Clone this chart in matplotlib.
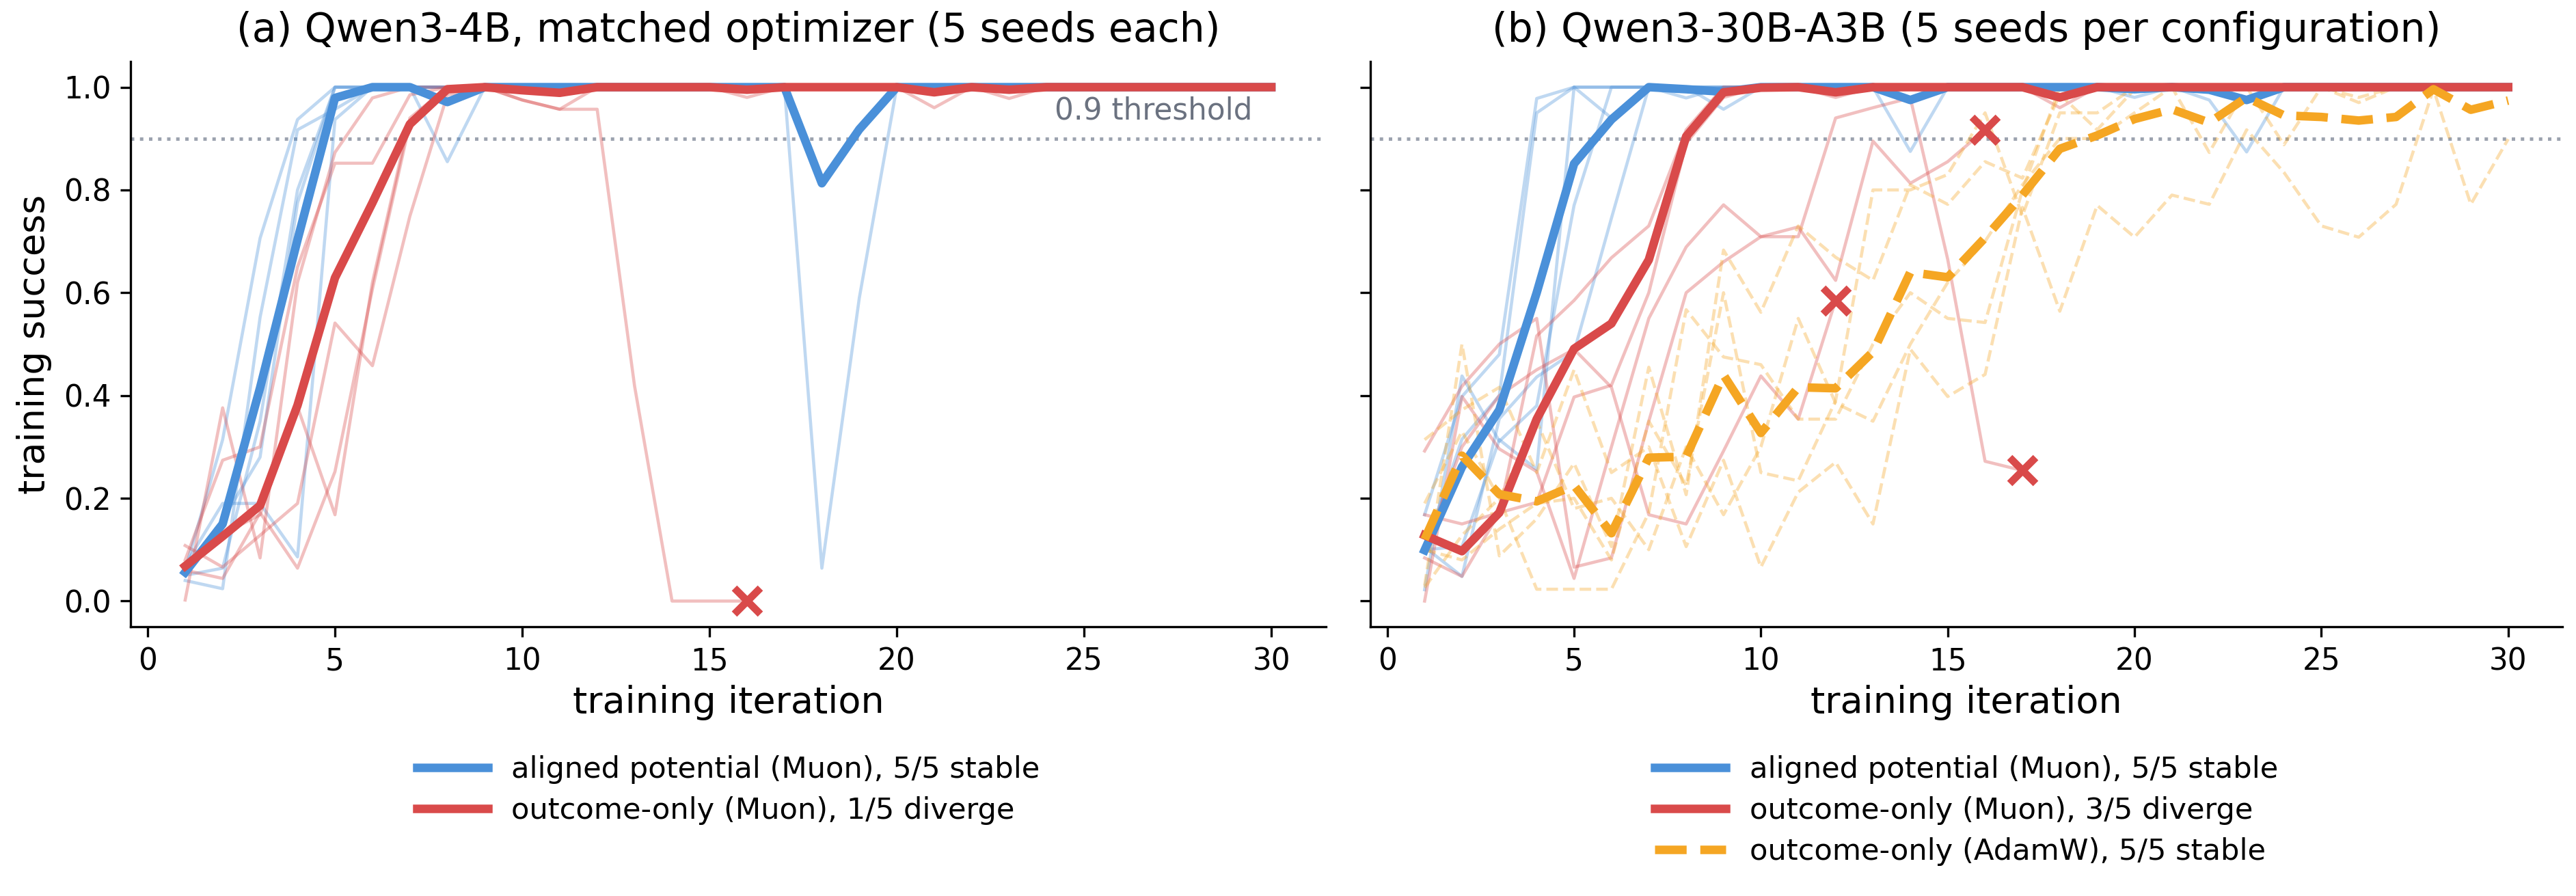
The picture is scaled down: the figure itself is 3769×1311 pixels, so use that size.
import matplotlib
matplotlib.use("Agg")
import matplotlib.pyplot as plt

plt.rcParams['font.family'] = ['DejaVu Sans']

iterations = list(range(1, 31))

# ---------------- panel (a): Qwen3-4B ----------------
blue_a_seeds = [
    [0.06, 0.314, 0.706, 0.937, 1.0, 1.0, 1.0, 1.0, 1.0, 1.0, 1.0, 1.0, 1.0, 1.0, 1.0, 1.0, 1.0, 1.0, 1.0, 1.0, 1.0, 1.0, 1.0, 1.0, 1.0, 1.0, 1.0, 1.0, 1.0, 1.0],
    [0.04, 0.024, 0.552, 0.917, 0.957, 1.0, 1.0, 1.0, 1.0, 1.0, 1.0, 1.0, 1.0, 1.0, 1.0, 1.0, 1.0, 1.0, 1.0, 1.0, 1.0, 1.0, 1.0, 1.0, 1.0, 1.0, 1.0, 1.0, 1.0, 1.0],
    [0.07, 0.19, 0.19, 0.086, 0.937, 1.0, 1.0, 0.855, 1.0, 1.0, 1.0, 1.0, 1.0, 1.0, 1.0, 1.0, 1.0, 1.0, 1.0, 1.0, 1.0, 1.0, 1.0, 1.0, 1.0, 1.0, 1.0, 1.0, 1.0, 1.0],
    [0.05, 0.064, 0.35, 0.80, 1.0, 1.0, 1.0, 1.0, 1.0, 1.0, 1.0, 1.0, 1.0, 1.0, 1.0, 1.0, 1.0, 0.064, 0.59, 1.0, 1.0, 1.0, 1.0, 1.0, 1.0, 1.0, 1.0, 1.0, 1.0, 1.0],
    [0.06, 0.158, 0.28, 0.775, 1.0, 1.0, 1.0, 1.0, 1.0, 1.0, 1.0, 1.0, 1.0, 1.0, 1.0, 1.0, 1.0, 1.0, 1.0, 1.0, 1.0, 1.0, 1.0, 1.0, 1.0, 1.0, 1.0, 1.0, 1.0, 1.0],
]
blue_a_mean = [0.056, 0.15, 0.415, 0.703, 0.979, 1.0, 1.0, 0.971, 1.0, 1.0, 1.0, 1.0, 1.0, 1.0, 1.0,
               1.0, 1.0, 0.813, 0.918, 1.0, 1.0, 1.0, 1.0, 1.0, 1.0, 1.0, 1.0, 1.0, 1.0, 1.0]

red_a_seeds = [
    [0.002, 0.376, 0.084, 0.62, 0.873, 0.979, 1.0, 1.0, 1.0, 1.0, 1.0, 1.0, 1.0, 1.0, 1.0, 0.98, 1.0, 1.0, 1.0, 1.0, 1.0, 1.0, 1.0, 1.0, 1.0, 1.0, 1.0, 1.0, 1.0, 1.0],
    [0.08, 0.274, 0.30, 0.65, 0.852, 0.852, 0.985, 1.0, 1.0, 0.975, 0.957, 1.0, 1.0, 1.0, 1.0, 1.0, 1.0, 1.0, 1.0, 1.0, 0.96, 1.0, 1.0, 1.0, 1.0, 1.0, 1.0, 1.0, 1.0, 1.0],
    [0.108, 0.066, 0.128, 0.19, 0.541, 0.458, 0.749, 0.985, 1.0, 1.0, 1.0, 1.0, 1.0, 1.0, 1.0, 1.0, 1.0, 1.0, 1.0, 1.0, 1.0, 1.0, 0.978, 1.0, 1.0, 1.0, 1.0, 1.0, 1.0, 1.0],
    [0.06, 0.044, 0.172, 0.064, 0.252, 0.607, 0.93, 1.0, 1.0, 1.0, 1.0, 1.0, 1.0, 1.0, 1.0, 1.0, 1.0, 1.0, 1.0, 1.0, 1.0, 1.0, 1.0, 1.0, 1.0, 1.0, 1.0, 1.0, 1.0, 1.0],
]
red_a_diverged = [[0.07, 0.13, 0.168, 0.378, 0.168, 0.62, 0.94, 1.0, 1.0, 0.975, 0.957, 0.957, 0.418, 0.0, 0.0, 0.0]]
red_a_mean = [0.068, 0.126, 0.186, 0.381, 0.629, 0.775, 0.928, 0.996, 1.0, 0.994, 0.989, 1.0, 1.0, 1.0, 1.0,
              0.995, 1.0, 1.0, 1.0, 1.0, 0.99, 1.0, 0.995, 1.0, 1.0, 1.0, 1.0, 1.0, 1.0, 1.0]

# ---------------- panel (b): Qwen3-30B-A3B ----------------
blue_b_seeds = [
    [0.168, 0.398, 0.48, 0.978, 1.0, 1.0, 1.0, 1.0, 0.957, 1.0, 1.0, 1.0, 1.0, 1.0, 1.0, 1.0, 1.0, 1.0, 1.0, 1.0, 1.0, 1.0, 1.0, 1.0, 1.0, 1.0, 1.0, 1.0, 1.0, 1.0],
    [0.10, 0.315, 0.40, 0.95, 1.0, 0.94, 1.0, 0.979, 1.0, 1.0, 1.0, 1.0, 1.0, 1.0, 1.0, 1.0, 1.0, 1.0, 1.0, 1.0, 1.0, 1.0, 1.0, 1.0, 1.0, 1.0, 1.0, 1.0, 1.0, 1.0],
    [0.022, 0.438, 0.311, 0.38, 0.77, 1.0, 1.0, 1.0, 1.0, 1.0, 1.0, 1.0, 1.0, 0.875, 1.0, 1.0, 1.0, 1.0, 1.0, 1.0, 1.0, 1.0, 1.0, 1.0, 1.0, 1.0, 1.0, 1.0, 1.0, 1.0],
    [0.10, 0.106, 0.314, 0.256, 1.0, 1.0, 1.0, 1.0, 1.0, 1.0, 1.0, 1.0, 1.0, 1.0, 1.0, 1.0, 1.0, 1.0, 1.0, 0.98, 1.0, 0.975, 0.874, 1.0, 1.0, 1.0, 1.0, 1.0, 1.0, 1.0],
    [0.105, 0.048, 0.355, 0.436, 0.485, 0.745, 1.0, 1.0, 1.0, 1.0, 1.0, 1.0, 1.0, 1.0, 1.0, 1.0, 1.0, 1.0, 1.0, 1.0, 1.0, 1.0, 1.0, 1.0, 1.0, 1.0, 1.0, 1.0, 1.0, 1.0],
]
blue_b_mean = [0.099, 0.261, 0.372, 0.60, 0.851, 0.937, 1.0, 0.996, 0.991, 1.0, 1.0, 1.0, 1.0, 0.975, 1.0,
               1.0, 1.0, 1.0, 1.0, 0.996, 1.0, 0.995, 0.975, 1.0, 1.0, 1.0, 1.0, 1.0, 1.0, 1.0]

red_b_seeds = [
    [0.168, 0.15, 0.172, 0.192, 0.397, 0.42, 0.60, 0.891, 0.98, 1.0, 1.0, 0.98, 1.0, 1.0, 1.0, 1.0, 1.0, 0.96, 1.0, 1.0, 1.0, 1.0, 1.0, 1.0, 1.0, 1.0, 1.0, 1.0, 1.0, 1.0],
    [0.084, 0.048, 0.172, 0.516, 0.585, 0.668, 0.73, 0.917, 1.0, 1.0, 1.0, 1.0, 1.0, 1.0, 1.0, 1.0, 1.0, 1.0, 1.0, 1.0, 1.0, 1.0, 1.0, 1.0, 1.0, 1.0, 1.0, 1.0, 1.0, 1.0],
]
red_b_diverged = [
    [0.0, 0.398, 0.296, 0.252, 0.044, 0.30, 0.55, 0.689, 0.771, 0.709, 0.709, 0.94, 0.96, 0.979, 0.665, 0.272, 0.254],
    [0.292, 0.418, 0.50, 0.55, 0.066, 0.084, 0.35, 0.60, 0.66, 0.709, 0.728, 0.624, 0.895, 0.813, 0.855, 0.917],
    [0.10, 0.30, 0.40, 0.45, 0.49, 0.416, 0.168, 0.15, 0.292, 0.438, 0.354, 0.585],
]
red_b_mean = [0.128, 0.097, 0.172, 0.354, 0.491, 0.54, 0.664, 0.904, 0.99, 0.999, 1.0, 0.99, 1.0, 1.0, 1.0,
              1.0, 1.0, 0.98, 1.0, 1.0, 1.0, 1.0, 1.0, 1.0, 1.0, 1.0, 1.0, 1.0, 1.0, 1.0]

orange_b_seeds = [
    [0.314, 0.372, 0.416, 0.25, 0.45, 0.25, 0.30, 0.106, 0.274, 0.066, 0.212, 0.27, 0.15, 0.49, 0.398, 0.441, 0.766, 0.564, 0.77, 0.708, 0.79, 0.772, 0.917, 0.834, 0.73, 0.708, 0.772, 0.996, 0.772, 0.899],
    [0.03, 0.50, 0.088, 0.16, 0.268, 0.106, 0.455, 0.207, 0.683, 0.562, 0.73, 0.669, 0.624, 0.81, 0.772, 0.855, 0.823, 0.986, 0.917, 0.996, 1.0, 1.0, 1.0, 1.0, 1.0, 0.98, 1.0, 1.0, 1.0, 1.0],
    [0.19, 0.33, 0.20, 0.023, 0.023, 0.023, 0.172, 0.567, 0.475, 0.46, 0.354, 0.354, 0.50, 0.60, 0.55, 0.542, 0.80, 1.0, 1.0, 1.0, 1.0, 0.873, 1.0, 1.0, 1.0, 1.0, 1.0, 1.0, 1.0, 1.0],
    [0.026, 0.128, 0.20, 0.35, 0.18, 0.20, 0.10, 0.30, 0.168, 0.30, 0.55, 0.385, 0.35, 0.50, 0.62, 0.70, 0.81, 0.90, 0.90, 0.95, 1.0, 1.0, 1.0, 0.888, 1.0, 0.97, 1.0, 1.0, 1.0, 1.0],
    [0.10, 0.08, 0.14, 0.19, 0.20, 0.08, 0.35, 0.225, 0.60, 0.25, 0.234, 0.39, 0.80, 0.80, 0.83, 0.95, 0.75, 0.95, 0.95, 1.0, 1.0, 1.0, 1.0, 1.0, 1.0, 1.0, 1.0, 1.0, 1.0, 1.0],
]
orange_b_mean = [0.12, 0.283, 0.208, 0.194, 0.225, 0.132, 0.279, 0.281, 0.44, 0.327, 0.416, 0.414, 0.485, 0.64, 0.63,
                 0.707, 0.79, 0.88, 0.906, 0.938, 0.957, 0.931, 0.98, 0.945, 0.942, 0.935, 0.942, 0.996, 0.956, 0.974]

titles = ["(a) Qwen3-4B, matched optimizer (5 seeds each)",
          "(b) Qwen3-30B-A3B (5 seeds per configuration)"]
labels_a = ["aligned potential (Muon), 5/5 stable", "outcome-only (Muon), 1/5 diverge"]
labels_b = ["aligned potential (Muon), 5/5 stable", "outcome-only (Muon), 3/5 diverge",
            "outcome-only (AdamW), 5/5 stable"]

BLUE = "#4A90D9"
RED = "#D94A4A"
ORANGE = "#F5A623"
GREY = "#9CA3AF"

W, H = 3769, 1311
fig = plt.figure(figsize=(W / 300, H / 300), dpi=300)
ax1 = fig.add_axes([0.0508, 0.3005, 0.4638, 0.6309])
ax2 = fig.add_axes([0.5320, 0.3005, 0.4627, 0.6309], sharey=ax1)

THIN = 1.1
THICK = 3.0
FA = 0.35


def draw_seeds(ax, seeds, color, ls='-', mark_end=False):
    for s in seeds:
        xs = iterations[:len(s)]
        ax.plot(xs, s, color=color, lw=THIN, alpha=FA, ls=ls, zorder=2)
        if mark_end:
            ax.plot([xs[-1]], [s[-1]], marker='x', color=RED, ms=9, mew=2.6,
                    ls='none', zorder=6)


# panel a
draw_seeds(ax1, blue_a_seeds, BLUE)
h1, = ax1.plot(iterations, blue_a_mean, color=BLUE, lw=THICK, zorder=4, label=labels_a[0])
draw_seeds(ax1, red_a_seeds, RED)
draw_seeds(ax1, red_a_diverged, RED, mark_end=True)
h2, = ax1.plot(iterations, red_a_mean, color=RED, lw=THICK, zorder=5, label=labels_a[1])

# panel b
draw_seeds(ax2, blue_b_seeds, BLUE)
g1, = ax2.plot(iterations, blue_b_mean, color=BLUE, lw=THICK, zorder=4, label=labels_b[0])
draw_seeds(ax2, red_b_seeds, RED)
draw_seeds(ax2, red_b_diverged, RED, mark_end=True)
g2, = ax2.plot(iterations, red_b_mean, color=RED, lw=THICK, zorder=5, label=labels_b[1])
draw_seeds(ax2, orange_b_seeds, ORANGE, ls='--')
g3, = ax2.plot(iterations, orange_b_mean, color=ORANGE, lw=THICK, ls='--', zorder=5, label=labels_b[2])

for ax, title in zip([ax1, ax2], titles):
    ax.axhline(0.9, color=GREY, ls=':', lw=1.2, zorder=1)
    ax.set_title(title, fontsize=14, pad=7)
    ax.set_xlabel("training iteration", fontsize=13, labelpad=3)
    ax.spines['top'].set_visible(False)
    ax.spines['right'].set_visible(False)
    ax.set_xticks([0, 5, 10, 15, 20, 25, 30])
    ax.set_yticks([0.0, 0.2, 0.4, 0.6, 0.8, 1.0])
    ax.tick_params(labelsize=10.5)
    ax.set_xlim(-0.45, 31.45)
    ax.set_ylim(-0.05, 1.05)

ax1.set_ylabel("training success", fontsize=13)
ax2.tick_params(labelleft=False)
ax1.text(29.5, 0.925, "0.9 threshold", color="#6B7280", fontsize=10.5, ha='right', va='bottom')

ax1.legend(handles=[h1, h2], loc='upper center', bbox_to_anchor=(0.5, -0.18), frameon=False,
           fontsize=10.4, handlelength=2.4, labelspacing=0.42)
ax2.legend(handles=[g1, g2, g3], loc='upper center', bbox_to_anchor=(0.5, -0.18), frameon=False,
           fontsize=10.4, handlelength=2.4, labelspacing=0.42)

fig.savefig("out.png", dpi=300)
